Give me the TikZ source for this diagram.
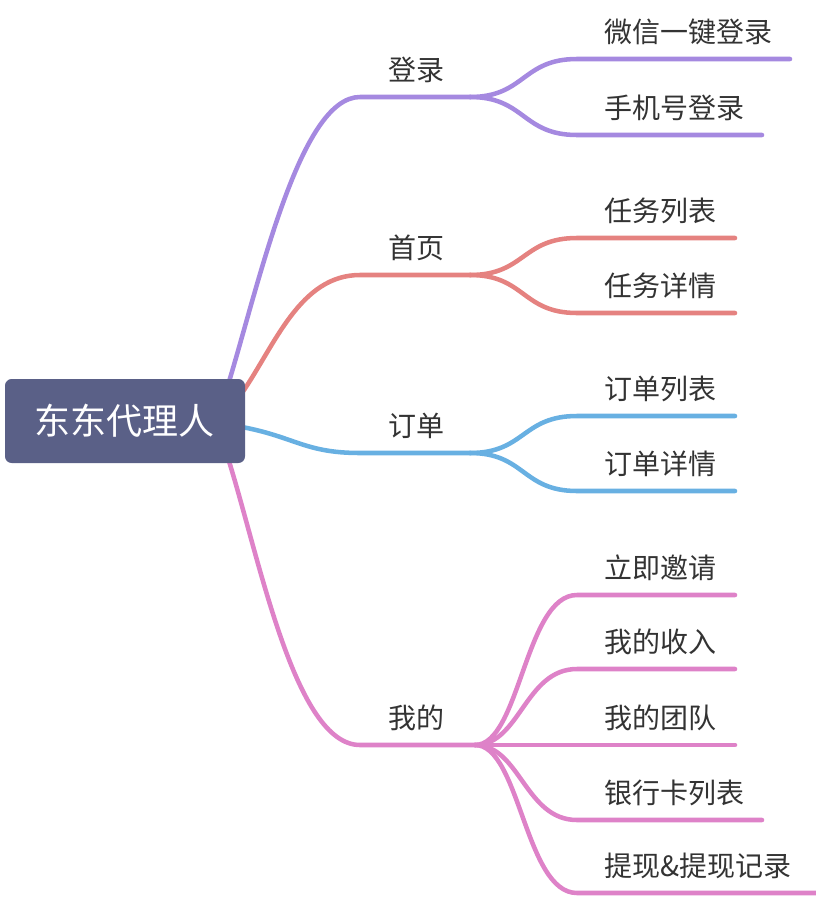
\documentclass[tikz,border=0pt]{standalone}
\usepackage{fontspec}
\setmainfont{Noto Sans CJK SC}
\definecolor{rootfill}{RGB}{90,96,135}
\definecolor{cpurp}{RGB}{165,137,224}
\definecolor{cred}{RGB}{229,130,128}
\definecolor{cblue}{RGB}{104,176,226}
\definecolor{cpink}{RGB}{222,130,200}
\begin{document}
\begin{tikzpicture}[x=0.75pt,y=-0.75pt,
	topic/.style={anchor=west,inner sep=0pt,text=black!80,font=\fontsize{21pt}{24pt}\selectfont},
	branch/.style={line width=3.4pt,line cap=round},
	root/.style={fill=rootfill,rounded corners=5pt,inner sep=0pt,minimum width=180pt,minimum height=63pt,text=white,font=\fontsize{27pt}{30pt}\selectfont}]
	\useasboundingbox (0,0) rectangle (816,900);

	% main branches
	\coordinate (r1) at (228,385);
	\coordinate (r2) at (242,393);
	\coordinate (r3) at (242,427);
	\coordinate (r4) at (228,458);
	\coordinate (dl-a) at (360,97);  \coordinate (dl-b) at (470,97);
	\coordinate (sy-a) at (360,275); \coordinate (sy-b) at (470,275);
	\coordinate (dd-a) at (360,453); \coordinate (dd-b) at (470,453);
	\coordinate (wd-a) at (360,745); \coordinate (wd-b) at (475,745);

	\draw[branch,cpurp] (r1) .. controls (260,280) and (300,97) .. (dl-a) -- (dl-b);
	\draw[branch,cred] (r2) .. controls (275,345) and (300,275) .. (sy-a) -- (sy-b);
	\draw[branch,cblue] (r3) .. controls (295,437) and (305,453) .. (dd-a) -- (dd-b);
	\draw[branch,cpink] (r4) .. controls (260,560) and (295,745) .. (wd-a) -- (wd-b);

	\node[topic] (dl) at (388,70) {登录};
	\node[topic] (sy) at (388,248) {首页};
	\node[topic] (dd) at (388,426) {订单};
	\node[topic] (wd) at (388,718) {我的};

	% sub branches
	\foreach \y/\e/\t [count=\i] in {59/790/微信一键登录, 135/762/手机号登录} {
		\coordinate (dl\i) at (577,\y); \coordinate (dle\i) at (\e,\y);
		\draw[branch,cpurp] (dl-b) .. controls +(55,0) and (522,\y) .. (dl\i) -- (dle\i);
		\node[topic] (dlt\i) at (604,\y-27) {\t};
	}
	\foreach \y/\e/\t [count=\i] in {238/735/任务列表, 313/735/任务详情} {
		\coordinate (sy\i) at (577,\y); \coordinate (sye\i) at (\e,\y);
		\draw[branch,cred] (sy-b) .. controls +(55,0) and (522,\y) .. (sy\i) -- (sye\i);
		\node[topic] (syt\i) at (604,\y-27) {\t};
	}
	\foreach \y/\e/\t [count=\i] in {416/735/订单列表, 491/735/订单详情} {
		\coordinate (dd\i) at (577,\y); \coordinate (dde\i) at (\e,\y);
		\draw[branch,cblue] (dd-b) .. controls +(55,0) and (522,\y) .. (dd\i) -- (dde\i);
		\node[topic] (ddt\i) at (604,\y-27) {\t};
	}
	\foreach \y/\e/\t [count=\i] in {595/735/立即邀请, 669/735/我的收入, 745/735/我的团队, 820/762/银行卡列表, 893/818/提现\&提现记录} {
		\coordinate (wd\i) at (577,\y); \coordinate (wde\i) at (\e,\y);
		\draw[branch,cpink] (wd-b) .. controls +(45,0) and (525,\y) .. (wd\i) -- (wde\i);
		\node[topic] (wdt\i) at (604,\y-27) {\t};
	}

	\node[root] (root) at (125,421) {东东代理人};
\end{tikzpicture}
\end{document}
